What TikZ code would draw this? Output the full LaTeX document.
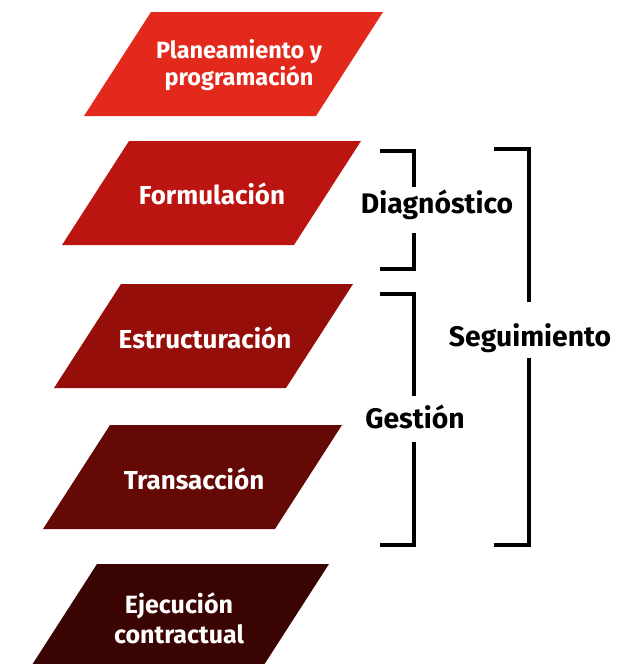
\documentclass[tikz,border=0pt]{standalone}
\usepackage{fontspec}
\setmainfont{Fira Sans}
\definecolor{cA}{HTML}{E3281C}
\definecolor{cB}{HTML}{BC1410}
\definecolor{cC}{HTML}{960E0A}
\definecolor{cD}{HTML}{640905}
\definecolor{cE}{HTML}{3A0403}
\begin{document}
\begin{tikzpicture}[x=1pt,y=-1pt,
  plab/.style={text=white,font=\bfseries\fontsize{26}{28}\selectfont,align=center,anchor=base,inner sep=0pt},
  blab/.style={text=black,font=\bfseries\fontsize{28.3}{30}\selectfont,anchor=base,inner sep=0pt},
  brk/.style={line width=4.5pt,draw=black}]
\useasboundingbox (0,0) rectangle (643,664);
\clip (0,0) rectangle (643,664);
% parallelograms
\fill[cA] (151,12) -- ++(232,0) -- ++(-67,104) -- ++(-232,0) -- cycle;
\fill[cB] (129,141) -- ++(232,0) -- ++(-67,104) -- ++(-232,0) -- cycle;
\fill[cC] (121,284) -- ++(232,0) -- ++(-67,104) -- ++(-232,0) -- cycle;
\fill[cD] (110,425) -- ++(232,0) -- ++(-67,104) -- ++(-232,0) -- cycle;
\fill[cE] (97,564) -- ++(232,0) -- ++(-67,104) -- ++(-232,0) -- cycle;
% labels
\node[plab,font=\bfseries\fontsize{23.5}{27}\selectfont] (p1) at (239,85) {Planeamiento y\\programación};
\node[plab] (p2) at (212,204) {Formulación};
\node[plab] (p3) at (205,348) {Estructuración};
\node[plab] (p4) at (194,489) {Transacción};
\node[plab,font=\bfseries\fontsize{25}{30}\selectfont] (p5) at (179,643) {Ejecución\\contractual};
\node[blab] (diag) at (437,213) {Diagnóstico};
\node[blab] (seg) at (530,346) {Seguimiento};
\node[blab] (ges) at (415,428) {Gestión};
% brackets
\coordinate (d1) at (380,151); \coordinate (d2) at (414,151); \coordinate (d3) at (414,187);
\coordinate (d4) at (414,233); \coordinate (d5) at (414,269); \coordinate (d6) at (380,269);
\draw[brk] (d1) -- (d2) -- (d3);
\draw[brk] (d4) -- (d5) -- (d6);
\coordinate (g1) at (380,294); \coordinate (g2) at (414,294); \coordinate (g3) at (414,396);
\coordinate (g4) at (414,442); \coordinate (g5) at (414,545); \coordinate (g6) at (380,545);
\draw[brk] (g1) -- (g2) -- (g3);
\draw[brk] (g4) -- (g5) -- (g6);
\coordinate (s1) at (494,149); \coordinate (s2) at (529,149); \coordinate (s3) at (529,302);
\coordinate (s4) at (529,358); \coordinate (s5) at (529,545); \coordinate (s6) at (494,545);
\draw[brk] (s1) -- (s2) -- (s3);
\draw[brk] (s4) -- (s5) -- (s6);
\end{tikzpicture}
\end{document}
